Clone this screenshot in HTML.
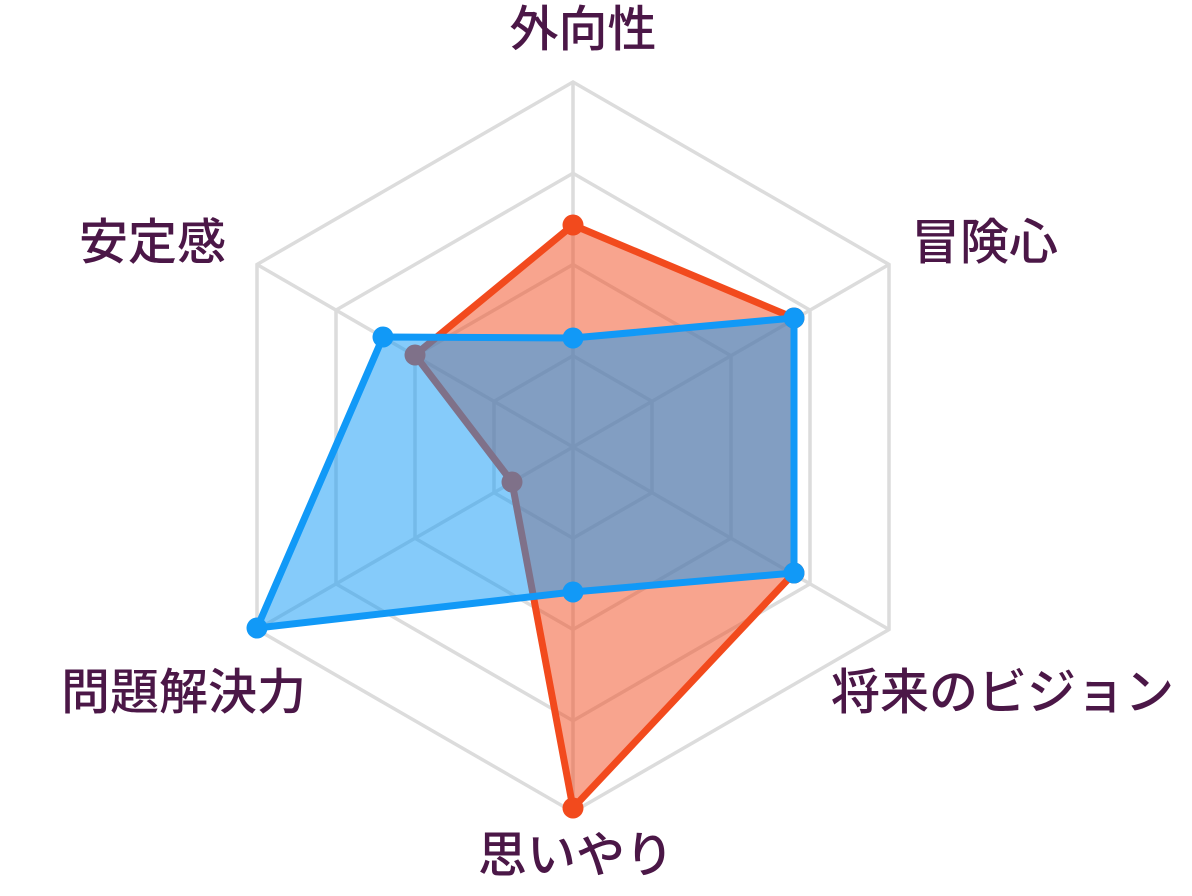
<!DOCTYPE html>
<html><head><meta charset="utf-8"><style>
html,body{margin:0;padding:0;background:#fff;}
svg text{font-family:"Liberation Sans","Noto Sans CJK JP",sans-serif;font-size:49px;font-weight:500;fill:#4b1747;}
</style></head><body>
<svg width="1192" height="891" viewBox="0 0 1192 891" xmlns="http://www.w3.org/2000/svg">
<g fill="none" stroke="#dcdcdc" stroke-width="3.5">
<polygon points="573,82 889,264.5 889,629.5 573,812 257,629.5 257,264.5"/>
<polygon points="573,173.25 810,310.1 810,583.9 573,720.75 336,583.9 336,310.1"/>
<polygon points="573,264.5 731,355.75 731,538.25 573,629.5 415,538.25 415,355.75"/>
<polygon points="573,355.75 652,401.4 652,492.6 573,538.25 494,492.6 494,401.4"/>
<line x1="573" y1="447" x2="573" y2="82"/><line x1="573" y1="447" x2="889" y2="264.5"/>
<line x1="573" y1="447" x2="889" y2="629.5"/><line x1="573" y1="447" x2="573" y2="812"/>
<line x1="573" y1="447" x2="257" y2="629.5"/><line x1="573" y1="447" x2="257" y2="264.5"/>
</g>
<polygon points="573,225 794,318 794,573 573,808 512,482 415,355" fill="#f24a1d" fill-opacity="0.5" stroke="#f24a1d" stroke-width="7" stroke-linejoin="round"/>
<g fill="#f24a1d"><circle cx="573" cy="225" r="10.5"/><circle cx="794" cy="318" r="10.5"/><circle cx="794" cy="573" r="10.5"/><circle cx="573" cy="808" r="10.5"/><circle cx="512" cy="482" r="10.5"/><circle cx="415" cy="355" r="10.5"/></g>
<polygon points="573,338 794,318 794,573 573,592 257,628 383,337" fill="#0c98f5" fill-opacity="0.5" stroke="#1199f7" stroke-width="7" stroke-linejoin="round"/>
<g fill="#1199f7"><circle cx="573" cy="338" r="10.5"/><circle cx="794" cy="318" r="10.5"/><circle cx="794" cy="573" r="10.5"/><circle cx="573" cy="592" r="10.5"/><circle cx="257" cy="628" r="10.5"/><circle cx="383" cy="337" r="10.5"/></g>
<text x="583" y="46" text-anchor="middle">外向性</text>
<text x="911" y="259">冒険心</text>
<text x="226" y="259" text-anchor="end">安定感</text>
<text x="831" y="709">将来のビジョン</text>
<text x="306" y="709" text-anchor="end">問題解決力</text>
<text x="576" y="872" text-anchor="middle">思いやり</text>
</svg>
</body></html>
